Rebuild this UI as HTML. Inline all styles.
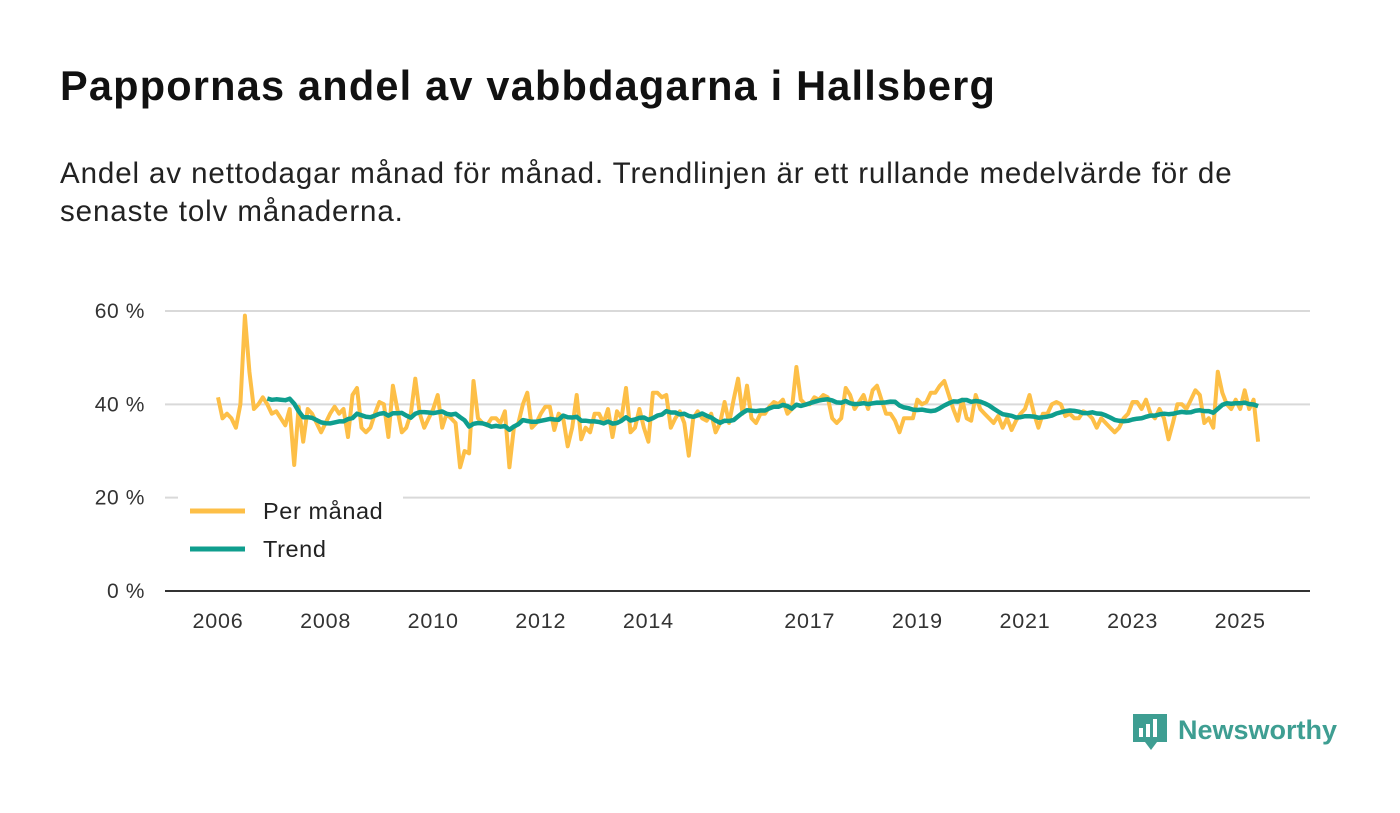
<!DOCTYPE html>
<html><head><meta charset="utf-8">
<style>
body{margin:0;background:#fff;font-family:"Liberation Sans","DejaVu Sans",sans-serif;}
#wrap{position:relative;width:1400px;height:813px;overflow:hidden;}
h1{position:absolute;left:60px;top:62px;margin:0;font-size:41.5px;font-weight:bold;color:#111;letter-spacing:1.2px}
.sub{position:absolute;left:60px;top:155px;width:1250px;margin:0;font-size:29.5px;line-height:38px;color:#222;letter-spacing:0.9px;white-space:nowrap}
</style></head><body>
<div id="wrap">
<h1>Pappornas andel av vabbdagarna i Hallsberg</h1>
<p class="sub">Andel av nettodagar månad för månad. Trendlinjen är ett rullande medelvärde för de<br>senaste tolv månaderna.</p>
<svg id="chart" width="1400" height="813" style="position:absolute;left:0;top:0"></svg>
</div>
<script>
const yTicks=[0,20,40,60];
const yTickLabels=["0 %","20 %","40 %","60 %"];
const xTickYears=[2006,2008,2010,2012,2014,2017,2019,2021,2023,2025];
const startYear=2006;
const monthly=[
41.5,37,38,37,35,40,59,47,39,40,41.5,40,
38,38.5,37,35.5,39,27,39.5,32,39,38,36,34,
36,38,39.5,38,39,33,42,43.5,35,34,35,38,
40.5,40,33,44,39,34,35,38,45.5,38,35,37,
39,42,35,38,37,36,26.5,30,29.5,45,37,36,
35.5,37,37,36,38.5,26.5,35,36,40,42.5,35,36,
38,39.5,39.5,34.5,38,37,31,35,42,32.5,35,34,
38,38,36,39,33,38.5,37,43.5,34,35,39,35,
32,42.5,42.5,41.5,42,35,37,38.5,36,29,37,38.5,
37,36.5,38,34,36,40.5,36,41,45.5,38,44,37,
36,38,38,39.5,40.5,40,41,38,39,48,41,40,
40,41.5,41,42,41.5,37,36,37,43.5,42,39,40.5,
42,39,43,44,41,38,38,36.5,34,37,37,37,
41,40,40.5,42.5,42.5,44,45,42,39,36.5,41,37,
36.5,42,39,38,37,36,37.5,35,37,34.5,36.5,38,
39,42,38,35,38,38,40,40.5,40,37.5,38,37,
37,38.5,38,37,35,37,36,35,34,35,37,38,
40.5,40.5,39,41,38,37,39,37,32.5,36,40,40,
39,41,43,42,36,37,35,47,42.5,40,39,41,
39,43,39,41,32];
const NS='http://www.w3.org/2000/svg';
const svg=document.getElementById('chart');
const x0=218,pxYear=53.8,y0=591,pxPct=4.667;
const FF='Liberation Sans, sans-serif';
function xs(i){return x0+i*pxYear/12;}
function xy(yr){return x0+(yr-startYear)*pxYear;}
function ys(v){return y0-v*pxPct;}
function mk(tag,attrs){const e=document.createElementNS(NS,tag);for(const k in attrs)e.setAttribute(k,attrs[k]);svg.appendChild(e);return e;}
yTicks.forEach((t,i)=>{
  if(t>0){const g=mk('line',{x1:165,x2:1310,y1:ys(t),y2:ys(t),stroke:'#d9d9d9','stroke-width':2});
  
  }
  const tx=mk('text',{x:145,y:ys(t)+7,'text-anchor':'end','font-size':21,'letter-spacing':0.6,fill:'#333','font-family':FF});
  tx.textContent=yTickLabels[i];
  
  
});
const ax=mk('line',{x1:165,x2:1310,y1:y0,y2:y0,stroke:'#333','stroke-width':2});


xTickYears.forEach(yr=>{
  const tx=mk('text',{x:xy(yr),y:628,'text-anchor':'middle','font-size':21.5,'letter-spacing':0.8,fill:'#333','font-family':FF});
  tx.textContent=yr;
  
  
});
let d='';monthly.forEach((v,i)=>{d+=(i?'L':'M')+xs(i).toFixed(1)+' '+ys(v).toFixed(1);});
const ml=mk('path',{d:d,fill:'none',stroke:'#fdbf47','stroke-width':4,'stroke-linejoin':'round'});


let td='';
for(let i=11;i<monthly.length;i++){let s=0;for(let j=i-11;j<=i;j++)s+=monthly[j];const v=s/12;td+=(i>11?'L':'M')+xs(i).toFixed(1)+' '+ys(v).toFixed(1);}
const tl=mk('path',{d:td,fill:'none',stroke:'#0f9e8e','stroke-width':4.5,'stroke-linejoin':'round'});


const lb=mk('rect',{x:178,y:490,width:225,height:78,fill:'#fff'});


[['Per månad','#fdbf47',511],['Trend','#0f9e8e',549]].forEach(([n,c,y])=>{
  const l=mk('line',{x1:190,x2:245,y1:y,y2:y,stroke:c,'stroke-width':5});
  
  
  const t=mk('text',{x:263,y:y+8,'font-size':23.5,'letter-spacing':0.6,fill:'#222','font-family':FF});
  t.textContent=n;
  
  
});
const lg=mk('g',{});


lg.innerHTML='<path d="M1133 714h34v28h-10l-6 8-6-8h-12z" fill="#3e9e92"/><rect x="1139" y="728" width="4" height="9" fill="#fff"/><rect x="1146" y="724" width="4" height="13" fill="#fff"/><rect x="1153" y="719" width="4" height="18" fill="#fff"/><text x="1178" y="739" font-size="27" font-weight="bold" fill="#3e9e92" font-family="Liberation Sans, sans-serif">Newsworthy</text>';
</script>
</body></html>
